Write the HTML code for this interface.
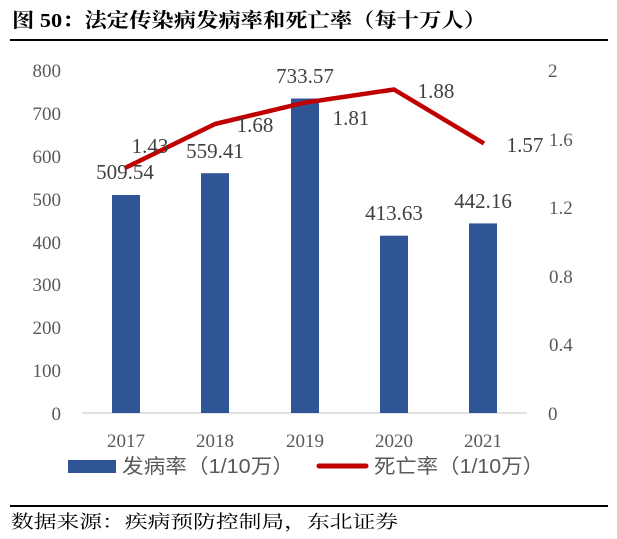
<!DOCTYPE html>
<html><head><meta charset="utf-8"><style>
body{margin:0;background:#fff;width:617px;height:539px;overflow:hidden}
svg{display:block}
</style></head><body>
<svg width="617" height="539" xmlns="http://www.w3.org/2000/svg" font-family="Liberation Serif, Noto Serif CJK SC, serif">
<text x="12" y="27" font-size="20" font-weight="bold" textLength="474" lengthAdjust="spacingAndGlyphs" font-family="Liberation Serif, Noto Serif CJK SC, serif">图 50：法定传染病发病率和死亡率（每十万人）</text>
<line x1="10" y1="40" x2="608" y2="40" stroke="#000" stroke-width="2"/>
<g font-size="19" fill="#595959" text-anchor="end">
<text x="61" y="77">800</text><text x="61" y="120">700</text><text x="61" y="163">600</text><text x="61" y="206">500</text><text x="61" y="249">400</text><text x="61" y="291">300</text><text x="61" y="334">200</text><text x="61" y="377">100</text><text x="61" y="420">0</text>
</g>
<g font-size="19" fill="#595959" text-anchor="start">
<text x="548" y="77">2</text><text x="549" y="146">1.6</text><text x="549" y="214">1.2</text><text x="549" y="283">0.8</text><text x="549" y="351">0.4</text><text x="548" y="420">0</text>
</g>
<line x1="82" y1="413" x2="527" y2="413" stroke="#d9d9d9" stroke-width="1.5"/>
<g fill="#2f5597">
<rect x="112" y="195" width="28" height="218"/>
<rect x="201" y="173.2" width="28" height="239.8"/>
<rect x="291" y="98.5" width="28" height="314.5"/>
<rect x="380" y="235.7" width="28" height="177.3"/>
<rect x="469" y="223.4" width="28" height="189.6"/>
</g>
<polyline points="125,168 215,124 305,102.6 394,89.5 484,143.5" fill="none" stroke="#c00000" stroke-width="4.5" stroke-linejoin="round"/>
<g font-size="21" fill="#404040" text-anchor="middle">
<text x="125" y="179">509.54</text><text x="215" y="158">559.41</text><text x="305" y="83">733.57</text><text x="394" y="220">413.63</text><text x="483" y="208">442.16</text>
<text x="150" y="153">1.43</text><text x="255" y="132">1.68</text><text x="351" y="125">1.81</text><text x="436" y="98">1.88</text><text x="525" y="152">1.57</text>
</g>
<g font-size="19" fill="#595959" text-anchor="middle">
<text x="126" y="447">2017</text><text x="215" y="447">2018</text><text x="305" y="447">2019</text><text x="394" y="447">2020</text><text x="483" y="447">2021</text>
</g>
<rect x="68" y="460" width="48" height="13" fill="#2f5597"/>
<text x="122" y="473" font-size="20" textLength="172" lengthAdjust="spacingAndGlyphs" fill="#595959" font-family="Liberation Sans, Noto Sans CJK SC, sans-serif">发病率（1/10万）</text>
<line x1="319" y1="466" x2="366" y2="466" stroke="#c00000" stroke-width="5" stroke-linecap="round"/>
<text x="374" y="473" font-size="20" textLength="170" lengthAdjust="spacingAndGlyphs" fill="#595959" font-family="Liberation Sans, Noto Sans CJK SC, sans-serif">死亡率（1/10万）</text>
<line x1="10" y1="506" x2="608" y2="506" stroke="#000" stroke-width="2"/>
<text x="11" y="528" font-size="18" textLength="387" lengthAdjust="spacingAndGlyphs" fill="#000">数据来源：疾病预防控制局，东北证券</text>
</svg>
</body></html>
